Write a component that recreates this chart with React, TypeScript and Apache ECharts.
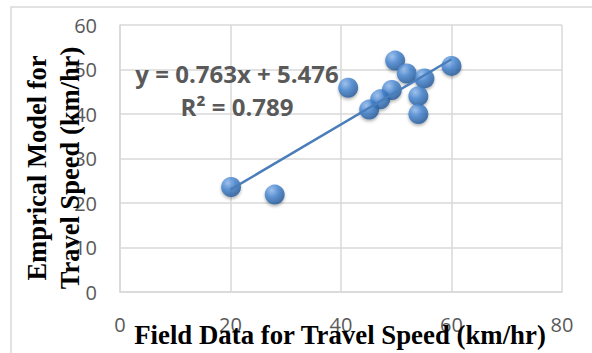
import React, { useEffect, useRef } from "react";
import * as echarts from "echarts";

const fieldSpeed = [20.1, 28.0, 41.3, 49.8, 51.9, 55.1, 60.0, 49.2, 47.1, 45.1, 54.0, 54.0];
const modelSpeed = [23.6, 21.9, 45.9, 52.0, 49.1, 48.0, 50.8, 45.4, 43.3, 41.0, 44.0, 40.0];
const trendX = [20.0, 60.0];
const trendY = [23.0, 52.3];
const equationLines = ["y = 0.763x + 5.476", "R² = 0.789"];
const xTitle = "Field Data for Travel Speed (km/hr)";
const yTitle = ["Emprical Model for", "Travel Speed (km/hr)"];

export default function App() {
  const ref = useRef<HTMLDivElement>(null);
  useEffect(() => {
    if (!ref.current) return;
    const chart = echarts.init(ref.current, null, { renderer: "svg" });
    const markerColor = new echarts.graphic.RadialGradient(0.35, 0.3, 0.75, [
      { offset: 0, color: "#92bcf0" },
      { offset: 0.45, color: "#4283d0" },
      { offset: 1, color: "#215493" },
    ]);
    const grayAxis = { lineStyle: { color: "#d9d9d9", width: 1.5 } };
    chart.setOption({
      animation: false,
      backgroundColor: "#ffffff",
      grid: { left: 120, right: 30, top: 25, bottom: 61, containLabel: false },
      xAxis: {
        type: "value",
        min: 0,
        max: 80,
        interval: 20,
        axisLine: { show: true, ...grayAxis },
        axisTick: { show: false },
        splitLine: { show: true, ...grayAxis },
        axisLabel: {
          color: "#595959",
          fontSize: 20,
          fontFamily: "Open Sans",
          margin: 22,
        },
      },
      yAxis: {
        type: "value",
        min: 0,
        max: 60,
        interval: 10,
        axisLine: { show: true, ...grayAxis },
        axisTick: { show: false },
        splitLine: { show: true, ...grayAxis },
        axisLabel: {
          color: "#595959",
          fontSize: 20,
          fontFamily: "Open Sans",
          margin: 23,
        },
      },
      series: [
        {
          type: "line",
          data: trendX.map((x, i) => [x, trendY[i]]),
          showSymbol: false,
          symbol: "none",
          lineStyle: { color: "#4a7ebb", width: 2.5 },
          z: 3,
        },
        {
          type: "scatter",
          data: fieldSpeed.map((x, i) => [x, modelSpeed[i]]),
          symbol: "circle",
          symbolSize: 20,
          itemStyle: {
            color: markerColor,
            shadowColor: "rgba(0,0,0,0.35)",
            shadowBlur: 3,
            shadowOffsetY: 2,
          },
          z: 2,
        },
      ],
      graphic: [
        {
          type: "rect",
          shape: { x: 11, y: 7, width: 620, height: 400 },
          style: { fill: "none", stroke: "#d9d9d9", lineWidth: 1.5 },
          z: 0,
          silent: true,
        },
        {
          type: "text",
          x: 237,
          y: 73,
          z: 100,
          style: {
            text: equationLines[0],
            fill: "#595959",
            font: "bold 24px 'Open Sans'",
            align: "center",
            verticalAlign: "middle",
          },
        },
        {
          type: "text",
          x: 237,
          y: 106,
          z: 100,
          style: {
            text: equationLines[1],
            fill: "#595959",
            font: "bold 24px 'Open Sans'",
            align: "center",
            verticalAlign: "middle",
          },
        },
        {
          type: "text",
          x: 340,
          y: 335,
          z: 100,
          style: {
            text: xTitle,
            fill: "#000000",
            font: "bold 26.8px 'Liberation Serif'",
            align: "center",
            verticalAlign: "middle",
          },
        },
        {
          type: "text",
          x: 53,
          y: 168,
          rotation: Math.PI / 2,
          z: 100,
          style: {
            text: yTitle.join("\n"),
            fill: "#000000",
            font: "bold 26.5px 'Liberation Serif'",
            lineHeight: 33,
            align: "center",
            verticalAlign: "middle",
          },
        },
      ],
    });
    return () => chart.dispose();
  }, []);
  return (
    <div
      ref={ref}
      style={{ position: "fixed", left: 0, top: 0, width: 592, height: 353 }}
    />
  );
}
